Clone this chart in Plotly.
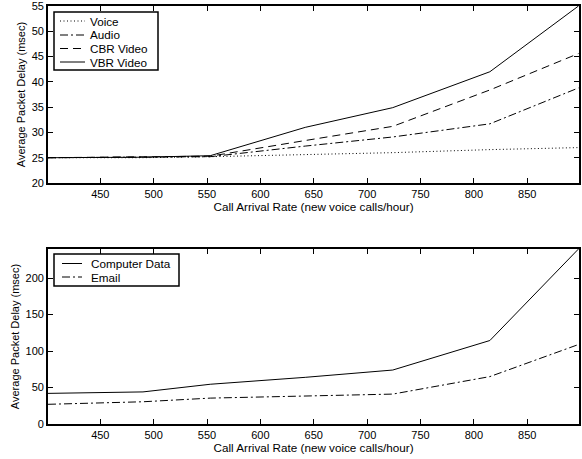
import plotly.graph_objects as go

x_rate = [401, 490, 553, 642, 724, 815, 898]

voice = [25.0, 25.0, 25.2, 25.6, 26.0, 26.6, 27.0]
audio = [25.0, 25.05, 25.2, 27.3, 29.1, 31.7, 38.8]
cbr_video = [25.0, 25.1, 25.3, 28.4, 31.2, 38.4, 45.6]
vbr_video = [25.0, 25.1, 25.4, 31.0, 34.9, 42.0, 55.0]

computer_data = [42, 44, 54.5, 64, 74, 114.5, 240]
email = [27, 30.5, 35.5, 38.5, 41, 65, 109]

x_ticks = [450, 500, 550, 600, 650, 700, 750, 800, 850]
y_ticks_top = [20, 25, 30, 35, 40, 45, 50, 55]
y_ticks_bot = [0, 50, 100, 150, 200]

FONT = "Liberation Sans, Arial, Helvetica, sans-serif"
DOT = "1px,2.5px"
DASHDOT = "8px,3px,2px,3px"
DASH = "8px,5px"

W, H = 582, 459
ML, MR, MT, MB = 48, 3, 6, 35
PW = W - ML - MR
PH = H - MT - MB


def px(xp):
    return (xp - ML) / PW


def py(yp):
    return (H - MB - yp) / PH


fig = go.Figure()

top_series = [
    ("Voice", voice, DOT),
    ("Audio", audio, DASHDOT),
    ("CBR Video", cbr_video, DASH),
    ("VBR Video", vbr_video, "solid"),
]
for name, vals, dash in top_series:
    fig.add_trace(go.Scatter(x=x_rate, y=vals, name=name, mode="lines",
                             line=dict(color="black", width=1, dash=dash),
                             xaxis="x", yaxis="y", showlegend=False))

bot_series = [
    ("Computer Data", computer_data, "solid"),
    ("Email", email, DASHDOT),
]
for name, vals, dash in bot_series:
    fig.add_trace(go.Scatter(x=x_rate, y=vals, name=name, mode="lines",
                             line=dict(color="black", width=1, dash=dash),
                             xaxis="x2", yaxis="y2", showlegend=False))

# custom legends (boxes, line samples, labels)
shapes = []
annotations = []


def add_legend(box, rows, series, lx0, lx1, tx):
    x0, x1, y0, y1 = box
    shapes.append(dict(type="rect", xref="paper", yref="paper",
                       x0=px(x0), x1=px(x1), y0=py(y1), y1=py(y0),
                       line=dict(color="black", width=1.5), fillcolor="white",
                       layer="above"))
    for ypos, (name, _, dash) in zip(rows, series):
        shapes.append(dict(type="line", xref="paper", yref="paper",
                           x0=px(lx0), x1=px(lx1), y0=py(ypos), y1=py(ypos),
                           line=dict(color="black", width=1, dash=dash),
                           layer="above"))
        annotations.append(dict(xref="paper", yref="paper", x=px(tx), y=py(ypos),
                                xanchor="left", yanchor="middle", text=name,
                                showarrow=False, xshift=-2,
                                font=dict(family=FONT, size=11.7, color="black")))


add_legend((54, 158, 12, 70), [21, 35, 48.5, 62], top_series, 60, 85, 90)
add_legend((54, 179, 254, 286), [263.5, 277], bot_series, 62, 82, 91)

axis_common = dict(showline=True, linecolor="black", linewidth=1.8, mirror="ticks",
                   ticks="inside", ticklen=5, tickwidth=1, tickcolor="black",
                   showgrid=False, zeroline=False, automargin=False,
                   ticklabeloverflow="allow",
                   tickfont=dict(family=FONT, size=11, color="black"))

xtitle = dict(text="Call Arrival Rate (new voice calls/hour)",
              font=dict(family=FONT, size=11.7, color="black"), standoff=2)
ytitle = dict(text="Average Packet Delay (msec)",
              font=dict(family=FONT, size=11, color="black"), standoff=4)

top_lo = py(183)
bot_hi = py(249)

fig.update_layout(
    width=W, height=H,
    margin=dict(l=ML, r=MR, t=MT, b=MB),
    paper_bgcolor="white", plot_bgcolor="white",
    font=dict(family=FONT, size=11, color="black"),
    showlegend=False,
    xaxis=dict(domain=[0, 1], range=[401, 898.5], tickvals=x_ticks,
               anchor="y", title=xtitle, **axis_common),
    yaxis=dict(domain=[top_lo, 1], range=[20, 55], tickvals=y_ticks_top,
               anchor="x", title=ytitle, **axis_common),
    xaxis2=dict(domain=[0, 1], range=[401, 898.5], tickvals=x_ticks,
                anchor="y2", title=xtitle, **axis_common),
    yaxis2=dict(domain=[0, bot_hi], range=[0, 240], tickvals=y_ticks_bot,
                anchor="x2", title=ytitle, **axis_common),
    shapes=shapes,
    annotations=annotations,
)

fig.write_html("out.html", config={"displayModeBar": False},
               post_script="document.body.style.margin='0';document.body.style.padding='0';")
